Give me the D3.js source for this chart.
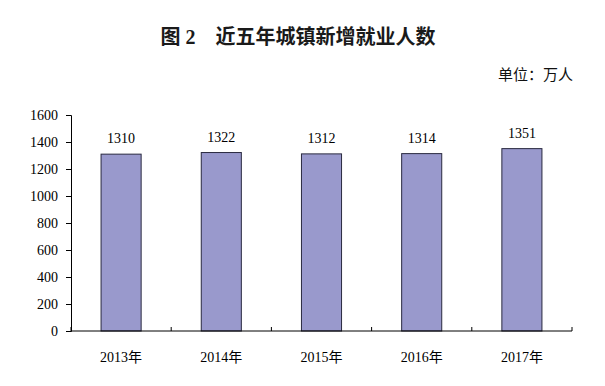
<!DOCTYPE html>
<html><head><meta charset="utf-8">
<script src="https://cdn.jsdelivr.net/npm/d3@7"></script>
<style>body{margin:0;background:#fff}</style>
</head><body>
<script>
const categories = ["2013年","2014年","2015年","2016年","2017年"];
const values = [1310,1322,1312,1314,1351];
const yTicks = [0,200,400,600,800,1000,1200,1400,1600];
const title = "图 2　近五年城镇新增就业人数";
const unit = "单位：万人";

const W=605,H=386;
const svg=d3.select("body").append("svg").attr("width",W).attr("height",H);
const numFont="'Liberation Serif','DejaVu Serif',serif";
const cjkFont="'Liberation Serif','Noto Sans CJK SC',serif";
const x=d3.scaleBand().domain(categories).range([71,572]).paddingInner(0.6).paddingOuter(0.3);
const xb=d3.scaleBand().domain(categories).range([71,572]);
const y=d3.scaleLinear().domain([0,1600]).range([331,115]);

svg.append("text").attr("x",298).attr("y",44).attr("text-anchor","middle")
  .attr("font-family",cjkFont).attr("font-size",20).attr("font-weight","bold").attr("fill","#1a1a1a").text(title);
svg.append("text").attr("x",573).attr("y",80).attr("text-anchor","end")
  .attr("font-family",cjkFont).attr("font-size",15).attr("fill","#111").text(unit);

// bars
svg.selectAll("rect.bar").data(values).join("rect").attr("class","bar")
  .attr("x",(d,i)=>x(categories[i])).attr("width",x.bandwidth())
  .attr("y",d=>y(d)).attr("height",d=>y(0)-y(d))
  .attr("fill","#9999cc").attr("stroke","#2a2a40").attr("stroke-width",1);

// value labels
svg.selectAll("text.val").data(values).join("text").attr("class","val")
  .attr("x",(d,i)=>x(categories[i])+x.bandwidth()/2).attr("y",d=>y(d)-11)
  .attr("text-anchor","middle").attr("font-family",numFont).attr("font-size",14).attr("fill","#000").text(d=>d);

// y axis
const ya=svg.append("g").attr("transform","translate(71,0)")
  .call(d3.axisLeft(y).tickValues(yTicks).tickSize(5).tickPadding(8).tickFormat(d3.format("d")));
ya.select(".domain").attr("stroke","#000");
ya.selectAll("line").attr("stroke","#000");
ya.selectAll("text").attr("font-family",numFont).attr("font-size",14).attr("fill","#000");

// x axis
const xa=svg.append("g").attr("transform","translate(0,331)");
xa.append("line").attr("x1",71).attr("x2",572).attr("y1",0).attr("y2",0).attr("stroke","#000");
const bounds=categories.map(c=>xb(c)).concat([xb.range()[1]]);
xa.selectAll("line.t").data(bounds).join("line").attr("class","t")
  .attr("x1",d=>d).attr("x2",d=>d).attr("y1",0).attr("y2",-4).attr("stroke","#000");
xa.selectAll("text").data(categories).join("text")
  .attr("x",d=>xb(d)+xb.bandwidth()/2).attr("y",31).attr("text-anchor","middle")
  .attr("font-family",cjkFont).attr("font-size",14).attr("fill","#000").text(d=>d);
</script>
</body></html>
